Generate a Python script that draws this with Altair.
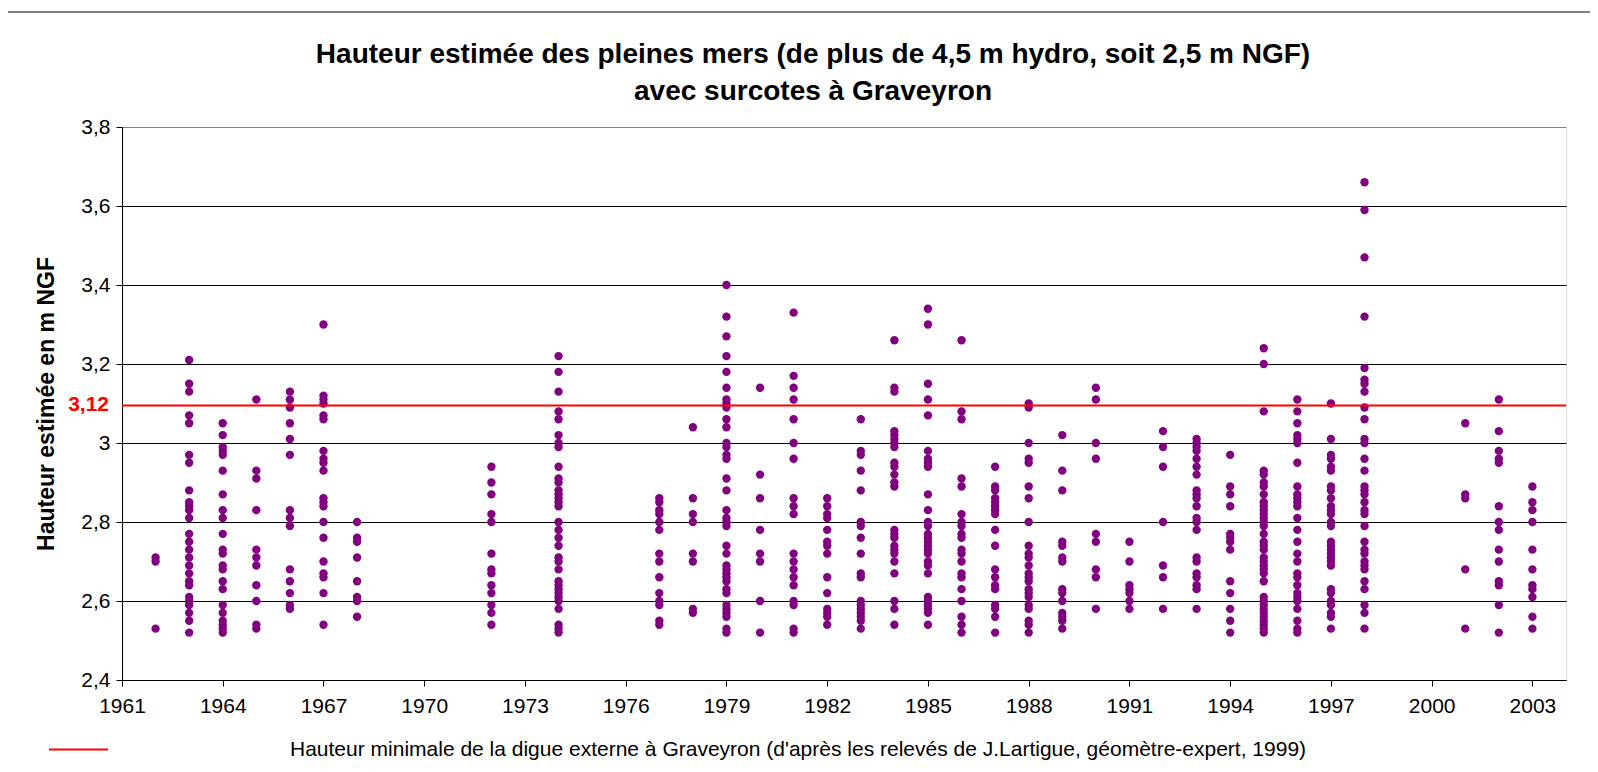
import altair as alt
import pandas as pd

# ---- data (hauteur estimée, m NGF) ----
h1962 = [2.71, 2.70, 2.53]
h1963 = [3.21, 3.15, 3.13, 3.07, 3.05, 2.97, 2.95, 2.88, 2.85, 2.84, 2.83, 2.81, 2.77, 2.75, 2.73, 2.71,
         2.69, 2.67, 2.65, 2.64, 2.61, 2.60, 2.59, 2.57, 2.55, 2.52]
h1964 = [3.05, 3.02, 2.99, 2.98, 2.97, 2.93, 2.87, 2.83, 2.81, 2.77, 2.73, 2.72, 2.69, 2.68, 2.65, 2.63,
         2.59, 2.57, 2.55, 2.54, 2.53, 2.52]
h1965 = [3.11, 2.93, 2.91, 2.83, 2.73, 2.71, 2.69, 2.64, 2.60, 2.54, 2.53]
h1966 = [3.13, 3.11, 3.09, 3.05, 3.01, 2.97, 2.83, 2.81, 2.79, 2.68, 2.65, 2.62, 2.59, 2.58]
h1967 = [3.30, 3.12, 3.11, 3.10, 3.07, 3.06, 2.98, 2.96, 2.95, 2.93, 2.86, 2.85, 2.84, 2.80, 2.76, 2.70,
         2.67, 2.66, 2.62, 2.54]
h1968 = [2.80, 2.76, 2.75, 2.71, 2.65, 2.61, 2.60, 2.56]
h1972 = [2.94, 2.90, 2.87, 2.82, 2.80, 2.72, 2.68, 2.67, 2.64, 2.62, 2.59, 2.57, 2.54]
h1974 = [3.22, 3.18, 3.13, 3.08, 3.06, 3.02, 3.00, 2.99, 2.94, 2.91, 2.90, 2.88, 2.87, 2.86, 2.85, 2.84,
         2.80, 2.78, 2.76, 2.74, 2.71, 2.70, 2.68, 2.65, 2.64, 2.63, 2.62, 2.61, 2.60, 2.58, 2.54, 2.53, 2.52]
h1977 = [2.86, 2.85, 2.83, 2.82, 2.80, 2.78, 2.72, 2.70, 2.66, 2.62, 2.60, 2.59, 2.55, 2.54]
h1978 = [3.04, 2.86, 2.82, 2.80, 2.72, 2.70, 2.58, 2.57]
h1979 = [3.40, 3.32, 3.27, 3.22, 3.18, 3.14, 3.11, 3.10, 3.09, 3.06, 3.04, 3.00, 2.99, 2.97, 2.96, 2.91,
         2.88, 2.83, 2.81, 2.80, 2.79, 2.74, 2.72, 2.69, 2.68, 2.67, 2.66, 2.65, 2.63, 2.62, 2.59, 2.58,
         2.57, 2.56, 2.53, 2.52]
h1980 = [3.14, 2.92, 2.86, 2.78, 2.72, 2.70, 2.60, 2.52]
h1981 = [3.33, 3.17, 3.14, 3.11, 3.06, 3.00, 2.96, 2.86, 2.84, 2.82, 2.72, 2.70, 2.68, 2.66, 2.64, 2.60,
         2.59, 2.53, 2.52]
h1982 = [2.86, 2.84, 2.82, 2.81, 2.78, 2.75, 2.74, 2.72, 2.66, 2.62, 2.58, 2.57, 2.56, 2.54]
h1983 = [3.06, 2.98, 2.97, 2.93, 2.88, 2.80, 2.79, 2.76, 2.72, 2.67, 2.66, 2.60, 2.59, 2.58, 2.57, 2.56,
         2.55, 2.53]
h1984 = [3.26, 3.14, 3.13, 3.03, 3.02, 3.01, 3.00, 2.99, 2.95, 2.94, 2.92, 2.90, 2.89, 2.78, 2.77, 2.76,
         2.74, 2.73, 2.72, 2.70, 2.67, 2.60, 2.58, 2.54]
h1985 = [3.34, 3.30, 3.15, 3.11, 3.07, 2.98, 2.96, 2.95, 2.94, 2.87, 2.83, 2.80, 2.79, 2.77, 2.76, 2.75,
         2.74, 2.73, 2.72, 2.70, 2.69, 2.67, 2.61, 2.60, 2.59, 2.58, 2.57, 2.54]
h1986 = [3.26, 3.08, 3.06, 2.91, 2.89, 2.82, 2.80, 2.79, 2.77, 2.76, 2.73, 2.72, 2.70, 2.67, 2.66, 2.63,
         2.60, 2.56, 2.54, 2.52]
h1987 = [2.94, 2.89, 2.88, 2.86, 2.85, 2.84, 2.83, 2.82, 2.78, 2.74, 2.68, 2.66, 2.64, 2.63, 2.59, 2.58,
         2.56, 2.52]
h1988 = [3.10, 3.09, 3.00, 2.96, 2.95, 2.89, 2.86, 2.80, 2.74, 2.72, 2.71, 2.69, 2.67, 2.66, 2.65, 2.63,
         2.62, 2.61, 2.59, 2.58, 2.55, 2.54, 2.52]
h1989 = [3.02, 2.93, 2.88, 2.75, 2.74, 2.71, 2.70, 2.63, 2.62, 2.60, 2.57, 2.56, 2.55, 2.53]
h1990 = [3.14, 3.11, 3.00, 2.96, 2.77, 2.75, 2.68, 2.66, 2.58]
h1991 = [2.75, 2.70, 2.64, 2.63, 2.62, 2.60, 2.58]
h1992 = [3.03, 2.99, 2.94, 2.80, 2.69, 2.66, 2.58]
h1993 = [3.01, 3.00, 2.99, 2.98, 2.96, 2.94, 2.92, 2.88, 2.87, 2.86, 2.84, 2.81, 2.80, 2.78, 2.71, 2.70,
         2.67, 2.66, 2.64, 2.63, 2.58]
h1994 = [2.97, 2.89, 2.87, 2.84, 2.77, 2.76, 2.75, 2.73, 2.65, 2.62, 2.58, 2.55, 2.52]
h1995 = [3.24, 3.20, 3.08, 2.93, 2.92, 2.90, 2.89, 2.87, 2.85, 2.84, 2.83, 2.82, 2.81, 2.80, 2.79, 2.77,
         2.75, 2.74, 2.73, 2.71, 2.70, 2.69, 2.68, 2.67, 2.65, 2.61, 2.60, 2.59, 2.58, 2.57, 2.56, 2.55,
         2.54, 2.53, 2.52]
h1996 = [3.11, 3.08, 3.05, 3.02, 3.01, 3.00, 2.95, 2.89, 2.87, 2.86, 2.85, 2.84, 2.81, 2.78, 2.75, 2.72,
         2.70, 2.67, 2.66, 2.64, 2.62, 2.61, 2.60, 2.58, 2.55, 2.53, 2.52]
h1997 = [3.10, 3.01, 2.97, 2.96, 2.94, 2.93, 2.89, 2.88, 2.86, 2.84, 2.83, 2.82, 2.80, 2.79, 2.75, 2.74,
         2.73, 2.72, 2.71, 2.70, 2.69, 2.63, 2.62, 2.60, 2.59, 2.57, 2.56, 2.53]
h1998 = [3.66, 3.59, 3.47, 3.32, 3.19, 3.16, 3.15, 3.13, 3.09, 3.06, 3.01, 3.00, 2.96, 2.93, 2.89, 2.88,
         2.87, 2.85, 2.83, 2.82, 2.79, 2.75, 2.73, 2.72, 2.70, 2.69, 2.68, 2.65, 2.63, 2.59, 2.57, 2.53]
h2001 = [3.05, 2.87, 2.86, 2.68, 2.53]
h2002 = [3.11, 3.03, 2.98, 2.96, 2.95, 2.84, 2.80, 2.78, 2.73, 2.70, 2.65, 2.64, 2.59, 2.52]
h2003 = [2.89, 2.85, 2.83, 2.80, 2.73, 2.68, 2.64, 2.63, 2.61, 2.56, 2.53]

years = [1962, 1963, 1964, 1965, 1966, 1967, 1968, 1972, 1974, 1977, 1978, 1979, 1980, 1981, 1982,
         1983, 1984, 1985, 1986, 1987, 1988, 1989, 1990, 1991, 1992, 1993, 1994, 1995, 1996, 1997,
         1998, 2001, 2002, 2003]
series = [h1962, h1963, h1964, h1965, h1966, h1967, h1968, h1972, h1974, h1977, h1978, h1979, h1980,
          h1981, h1982, h1983, h1984, h1985, h1986, h1987, h1988, h1989, h1990, h1991, h1992, h1993,
          h1994, h1995, h1996, h1997, h1998, h2001, h2002, h2003]

x_ticks = list(range(1961, 2004, 3))
y_ticks = [2.4, 2.6, 2.8, 3.0, 3.2, 3.4, 3.6, 3.8]

digue_level = [3.095]          # position of the red line as drawn
digue_text = ["3,12"]          # its label on the axis
legend_label = ["Hauteur minimale de la digue externe à Graveyron (d'après les relevés de J.Lartigue, géomètre-expert, 1999)"]

title_lines = ["Hauteur estimée des pleines mers (de plus de 4,5 m hydro, soit 2,5 m NGF)",
               "avec surcotes à Graveyron"]

rows = [{"annee": y, "hauteur": v} for y, vals in zip(years, series) for v in vals]
df = pd.DataFrame(rows)
df_digue = pd.DataFrame({"niveau": digue_level, "txt": digue_text, "lib": legend_label})

FONT = "Liberation Sans"
W, H = 1444, 553
FS = 21

xscale = alt.Scale(domain=[1961, 2004], nice=False, zero=False)
yscale = alt.Scale(domain=[2.4, 3.8], nice=False, zero=False)

points = alt.Chart(df).mark_circle(size=70, color="#800080", opacity=1).encode(
    x=alt.X("annee:Q", scale=xscale,
            axis=alt.Axis(values=x_ticks, format="d", title=None, grid=False,
                          labelFontSize=FS, labelFont=FONT, labelColor="black",
                          tickSize=6, tickColor="black", labelPadding=9,
                          domainColor="#000000", domainWidth=1, labelFlush=False)),
    y=alt.Y("hauteur:Q", scale=yscale,
            axis=alt.Axis(values=y_ticks,
                          labelExpr="replace(format(datum.value, '.2~f'), '.', ',')",
                          grid=True,
                          gridColor={"condition": {"test": "datum.value >= 3.79", "value": "#808080"},
                                     "value": "#000000"},
                          gridWidth=1,
                          labelFontSize=FS, labelFont=FONT, labelColor="black",
                          tickSize=6, tickColor="black", labelPadding=6,
                          domainColor="#000000", labelFlush=False,
                          title="Hauteur estimée en m NGF", titleFont=FONT,
                          titleFontSize=23, titleFontWeight="bold", titleColor="black",
                          titleX=-76, titleY=H / 2, titleAngle=270,
                          titleAlign="center", titleBaseline="middle")),
)

digue = alt.Chart(df_digue).mark_rule(strokeWidth=2).encode(
    y=alt.Y("niveau:Q", scale=yscale),
    color=alt.Color("lib:N", scale=alt.Scale(range=["#FF0000"]),
                    legend=alt.Legend(title=None, orient="none", legendX=-74, legendY=592,
                                      symbolType="stroke", symbolSize=3481, symbolStrokeWidth=2,
                                      labelOffset=181, labelFontSize=FS, labelFont=FONT,
                                      labelColor="black", labelLimit=3000, padding=0)),
)

digue_lbl = alt.Chart(df_digue).mark_text(align="right", baseline="middle", color="#FF0000",
                                          fontWeight="bold", fontSize=FS, font=FONT).encode(
    y=alt.Y("niveau:Q", scale=yscale),
    x=alt.value(-13),
    text="txt:N",
)

frame = alt.Chart(df_digue).mark_rule(color="black", strokeWidth=1).encode(
    x=alt.value(-114), x2=alt.value(1468), y=alt.value(-115)
)

chart = alt.layer(points, digue, digue_lbl, frame).properties(
    width=W, height=H,
    title=alt.TitleParams(text=title_lines, fontSize=28, font=FONT, fontWeight="bold",
                          anchor="middle", dx=-31, offset=-94, lineHeight=37, color="black"),
    autosize=alt.AutoSizeParams(type="none"),
    padding={"left": 114, "top": 119, "right": 24, "bottom": 84},
).configure_view(
    fill="#CCCCFF", stroke="#808080", strokeWidth=1
).configure(background="white")

chart.save("out.html", embed_options={"renderer": "svg", "actions": False})
